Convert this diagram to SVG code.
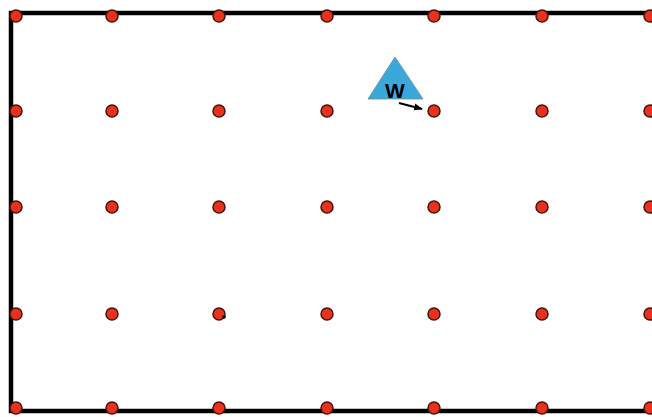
<svg xmlns="http://www.w3.org/2000/svg" width="652" height="417" viewBox="0 0 652 417">
<defs>
<style>
.dot{fill:#e8321e;stroke:#4a1208;stroke-width:1.5}
.frame{stroke:#000;stroke-width:4.5;fill:none}
</style>
<marker id="ah" markerWidth="9" markerHeight="8" refX="8" refY="4" orient="auto" markerUnits="userSpaceOnUse">
<path d="M0,0.5 L9,4 L0,7.5 Z" fill="#000"/>
</marker>
</defs>
<rect width="652" height="417" fill="#fff"/>
<g id="frame">
<path class="frame" d="M652,13 L11,13 L11,411 L652,411"/>
</g>
<g id="grid">
<circle class="dot" cx="16" cy="16" r="6"/><circle class="dot" cx="112" cy="16" r="6"/><circle class="dot" cx="219" cy="16" r="6"/><circle class="dot" cx="327" cy="16" r="6"/><circle class="dot" cx="434" cy="16" r="6"/><circle class="dot" cx="542" cy="16" r="6"/><circle class="dot" cx="650" cy="16" r="6"/>
<circle class="dot" cx="16" cy="111" r="6"/><circle class="dot" cx="112" cy="111" r="6"/><circle class="dot" cx="219" cy="111" r="6"/><circle class="dot" cx="327" cy="111" r="6"/><circle class="dot" cx="434" cy="111" r="6"/><circle class="dot" cx="542" cy="111" r="6"/><circle class="dot" cx="650" cy="111" r="6"/>
<circle class="dot" cx="16" cy="207" r="6"/><circle class="dot" cx="112" cy="207" r="6"/><circle class="dot" cx="219" cy="207" r="6"/><circle class="dot" cx="327" cy="207" r="6"/><circle class="dot" cx="434" cy="207" r="6"/><circle class="dot" cx="542" cy="207" r="6"/><circle class="dot" cx="650" cy="207" r="6"/>
<circle class="dot" cx="16" cy="314" r="6"/><circle class="dot" cx="112" cy="314" r="6"/><circle class="dot" cx="219" cy="314" r="6"/><circle class="dot" cx="327" cy="314" r="6"/><circle class="dot" cx="434" cy="314" r="6"/><circle class="dot" cx="542" cy="314" r="6"/><circle class="dot" cx="650" cy="314" r="6"/>
<circle class="dot" cx="16" cy="408" r="6"/><circle class="dot" cx="112" cy="408" r="6"/><circle class="dot" cx="219" cy="408" r="6"/><circle class="dot" cx="327" cy="408" r="6"/><circle class="dot" cx="434" cy="408" r="6"/><circle class="dot" cx="542" cy="408" r="6"/><circle class="dot" cx="650" cy="408" r="6"/>
<circle cx="224" cy="317" r="1.8" fill="#000"/>
</g>
<g id="w">
<polygon points="395,57 368,99 423,99" fill="#3aa9d9" stroke="#6a8a98" stroke-width="0.8"/>
<text x="395" y="98" font-family="Liberation Sans, Arial, sans-serif" font-size="21" font-weight="bold" text-anchor="middle" fill="#000">W</text>
</g>
<g id="connectors">
<line x1="399" y1="103" x2="422" y2="109" stroke="#000" stroke-width="2" marker-end="url(#ah)"/>
</g>
</svg>
